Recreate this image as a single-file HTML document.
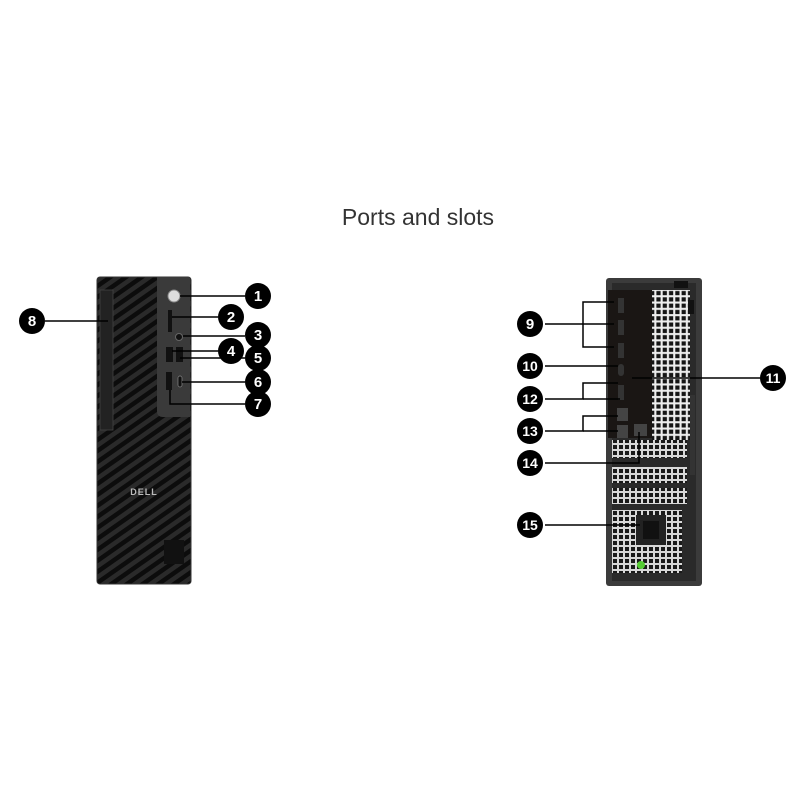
<!DOCTYPE html>
<html><head><style>
html,body{margin:0;padding:0;background:#fff;}
body{width:800px;height:800px;overflow:hidden;position:relative;font-family:"Liberation Sans",sans-serif;}
</style></head><body>
<svg width="800" height="800" viewBox="0 0 800 800" xmlns="http://www.w3.org/2000/svg">
<defs>
<pattern id="hatch" width="9" height="9" patternUnits="userSpaceOnUse" patternTransform="rotate(-35)">
<rect width="9" height="9" fill="#2a2a2a"/><rect width="9" height="4.5" fill="#0c0c0c"/>
</pattern>
<pattern id="grill" width="6.3" height="6.3" patternUnits="userSpaceOnUse">
<rect width="6.3" height="6.3" fill="#eeeeee"/><rect x="1.2" y="1.2" width="4.2" height="4.2" fill="#151515"/>
</pattern>
<pattern id="grill2" width="6" height="6" patternUnits="userSpaceOnUse">
<rect width="6" height="6" fill="#d8d8d8"/><rect x="1" y="1" width="4" height="4" fill="#1a1a1a"/>
</pattern>
</defs>

<text x="418" y="225" text-anchor="middle" font-size="23" fill="#333" font-family="Liberation Sans, sans-serif">Ports and slots</text>

<!-- FRONT TOWER -->
<rect x="97" y="277" width="94" height="307" rx="3" fill="url(#hatch)"/>
<rect x="97" y="277" width="94" height="307" rx="3" fill="none" stroke="#333" stroke-width="1"/>
<rect x="100" y="290" width="13" height="140" fill="#222" stroke="#444" stroke-width="0.8"/>
<path d="M157 277 H190 V417 H163 Q157 417 157 411 Z" fill="#3a3a3a"/>
<circle cx="174" cy="296" r="6" fill="#ddd" stroke="#888"/>
<rect x="168" y="310" width="4" height="22" fill="#111"/>
<circle cx="179" cy="337" r="3.5" fill="#111" stroke="#666"/>
<rect x="166" y="347" width="7" height="15" fill="#111"/>
<rect x="176" y="347" width="7" height="15" fill="#111"/>
<rect x="166" y="372" width="6" height="18" fill="#111"/>
<rect x="178" y="376" width="4" height="11" rx="2" fill="#111" stroke="#888" stroke-width="0.7"/>
<text x="144" y="495" text-anchor="middle" font-size="9" font-weight="bold" fill="#bbb" letter-spacing="1">DELL</text>
<rect x="164" y="540" width="20" height="24" fill="#111"/>

<!-- front lines -->
<g stroke="#000" stroke-width="1.5" fill="none">
<line x1="45" y1="321" x2="108" y2="321"/>
<line x1="180" y1="296" x2="245" y2="296"/>
<line x1="172" y1="317" x2="218" y2="317"/>
<line x1="183" y1="336" x2="245" y2="336"/>
<line x1="172" y1="351" x2="218" y2="351"/>
<line x1="180" y1="358" x2="245" y2="358"/>
<line x1="182" y1="382" x2="245" y2="382"/>
<polyline points="170,390 170,404 245,404"/>
</g>

<!-- REAR TOWER -->
<rect x="606" y="278" width="96" height="308" rx="3" fill="#3b3b3b"/>
<rect x="612" y="283" width="84" height="298" fill="#2a2a2a"/>
<rect x="652" y="290" width="38" height="150" fill="url(#grill)"/>
<rect x="612" y="440" width="75" height="18" fill="url(#grill2)"/>
<rect x="612" y="467" width="75" height="16" fill="url(#grill2)"/>
<rect x="612" y="488" width="75" height="16" fill="url(#grill2)"/>
<rect x="612" y="510" width="70" height="63" fill="url(#grill2)"/>
<rect x="636" y="515" width="30" height="30" fill="#222"/>
<rect x="643" y="521" width="16" height="18" fill="#111"/>
<circle cx="641" cy="565" r="4" fill="#55cc33"/>
<rect x="608" y="290" width="44" height="148" fill="#1a1614"/>
<rect x="618" y="298" width="6" height="15" fill="#333"/>
<rect x="618" y="320" width="6" height="15" fill="#333"/>
<rect x="618" y="343" width="6" height="15" fill="#333"/>
<rect x="618" y="364" width="6" height="12" rx="3" fill="#333"/>
<rect x="618" y="385" width="6" height="15" fill="#333"/>
<rect x="617" y="408" width="11" height="13" fill="#444"/>
<rect x="617" y="425" width="11" height="13" fill="#444"/>
<rect x="634" y="424" width="13" height="12" fill="#444"/>
<rect x="674" y="281" width="14" height="7" fill="#111"/>
<rect x="688" y="300" width="6" height="14" fill="#111"/>
<rect x="690" y="395" width="5" height="80" fill="#333"/>

<!-- rear lines -->
<g stroke="#000" stroke-width="1.5" fill="none">
<line x1="545" y1="324" x2="583" y2="324"/>
<polyline points="614,302 583,302 583,347 614,347"/>
<line x1="583" y1="324" x2="614" y2="324"/>
<line x1="545" y1="366" x2="618" y2="366"/>
<line x1="632" y1="378" x2="760" y2="378"/>
<polyline points="545,399 583,399 583,383 618,383"/>
<line x1="583" y1="399" x2="620" y2="399"/>
<polyline points="545,431 583,431 583,416 618,416"/>
<line x1="583" y1="431" x2="618" y2="431"/>
<polyline points="639,432 639,463 545,463"/>
<line x1="545" y1="525" x2="640" y2="525"/>
</g>

<!-- badges -->
<g font-family="Liberation Sans, sans-serif" font-weight="bold" font-size="15" fill="#fff" text-anchor="middle">
<g><circle cx="32" cy="321" r="13" fill="#000"/><text x="32" y="326">8</text></g>
<g><circle cx="258" cy="296" r="13" fill="#000"/><text x="258" y="301">1</text></g>
<g><circle cx="231" cy="317" r="13" fill="#000"/><text x="231" y="322">2</text></g>
<g><circle cx="258" cy="335" r="13" fill="#000"/><text x="258" y="340">3</text></g>
<g><circle cx="231" cy="351" r="13" fill="#000"/><text x="231" y="356">4</text></g>
<g><circle cx="258" cy="358" r="13" fill="#000"/><text x="258" y="363">5</text></g>
<g><circle cx="258" cy="382" r="13" fill="#000"/><text x="258" y="387">6</text></g>
<g><circle cx="258" cy="404" r="13" fill="#000"/><text x="258" y="409">7</text></g>
<g><circle cx="530" cy="324" r="13" fill="#000"/><text x="530" y="329">9</text></g>
<g><circle cx="530" cy="366" r="13" fill="#000"/><text x="530" y="371" font-size="14">10</text></g>
<g><circle cx="773" cy="378" r="13" fill="#000"/><text x="773" y="383" font-size="14">11</text></g>
<g><circle cx="530" cy="399" r="13" fill="#000"/><text x="530" y="404" font-size="14">12</text></g>
<g><circle cx="530" cy="431" r="13" fill="#000"/><text x="530" y="436" font-size="14">13</text></g>
<g><circle cx="530" cy="463" r="13" fill="#000"/><text x="530" y="468" font-size="14">14</text></g>
<g><circle cx="530" cy="525" r="13" fill="#000"/><text x="530" y="530" font-size="14">15</text></g>
</g>
</svg>
</body></html>
